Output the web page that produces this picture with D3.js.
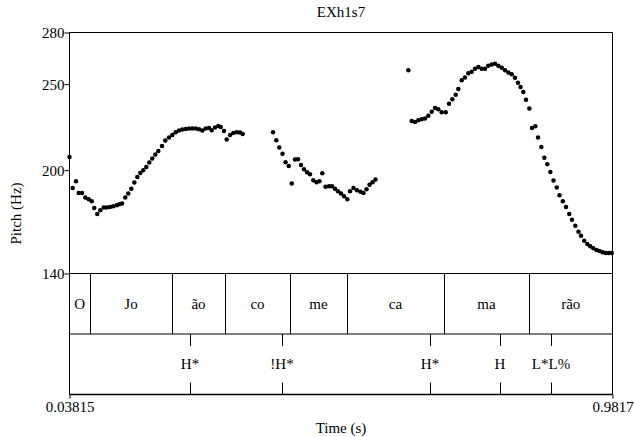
<!DOCTYPE html>
<html>
<head>
<meta charset="utf-8">
<script src="https://cdn.jsdelivr.net/npm/d3@7"></script>
<style>
  body { margin: 0; background: #fff; }
  svg { display: block; }
</style>
</head>
<body>
<svg width="634" height="437"></svg>
<script>
// pitch track (time in s, F0 in Hz)
var pitchTime = [
  0.0382, 0.0437, 0.0494, 0.0541, 0.0599, 0.0656, 0.0715, 0.0767, 0.0812, 0.0864,
  0.0917, 0.0976, 0.1028, 0.1085, 0.1142, 0.1202, 0.1247, 0.1294, 0.1351, 0.1403,
  0.1455, 0.1508, 0.1560, 0.1612, 0.1664, 0.1716, 0.1768, 0.1820, 0.1872, 0.1925,
  0.1989, 0.2046, 0.2110, 0.2168, 0.2227, 0.2284, 0.2342, 0.2401, 0.2458, 0.2515,
  0.2575, 0.2632, 0.2689, 0.2748, 0.2806, 0.2852, 0.2910, 0.2967, 0.3009, 0.3066,
  0.3113, 0.3171, 0.3228, 0.3287, 0.3344, 0.3391,
  0.3918, 0.3975, 0.4027, 0.4083, 0.4135, 0.4191, 0.4243, 0.4300, 0.4352, 0.4404,
  0.4456, 0.4509, 0.4561, 0.4618, 0.4674, 0.4726, 0.4774, 0.4830, 0.4891, 0.4943,
  0.4995, 0.5047, 0.5099, 0.5152, 0.5209, 0.5256, 0.5316, 0.5377, 0.5438, 0.5490,
  0.5543, 0.5595, 0.5647, 0.5699,
  0.6269, 0.6328, 0.6385, 0.6443, 0.6502, 0.6559, 0.6617, 0.6676, 0.6733, 0.6790,
  0.6849, 0.6919, 0.6976, 0.7034, 0.7092, 0.7138, 0.7197, 0.7254, 0.7312, 0.7370,
  0.7428, 0.7485, 0.7544, 0.7602, 0.7659, 0.7718, 0.7775, 0.7833, 0.7892, 0.7949,
  0.8007, 0.8066, 0.8123, 0.8175, 0.8219, 0.8267, 0.8314, 0.8372, 0.8418, 0.8476,
  0.8523, 0.8580, 0.8632, 0.8684, 0.8737, 0.8792, 0.8848, 0.8896, 0.8954, 0.9009,
  0.9065, 0.9113, 0.9171, 0.9226, 0.9270, 0.9325, 0.9379, 0.9430, 0.9484, 0.9539,
  0.9591, 0.9643, 0.9696, 0.9753, 0.9805
];
var pitchHz = [
  207.7, 189.7, 193.6, 186.8, 186.8, 184.2, 183.2, 181.9, 178.1, 174.5,
  176.8, 178.4, 178.4, 178.7, 179.1, 179.7, 180.3, 180.7, 184.2, 186.5,
  189.2, 192.9, 196.1, 198.4, 200.0, 201.9, 204.5, 206.8, 209.1, 211.2,
  214.1, 217.2, 219.0, 220.5, 222.0, 223.0, 223.6, 223.9, 224.2, 224.3,
  224.2, 223.8, 223.0, 224.2, 224.5, 223.2, 224.8, 225.7, 225.1, 222.8,
  217.8, 220.5, 221.6, 222.0, 221.9, 221.0,
  222.0, 217.4, 213.2, 209.5, 204.6, 202.5, 192.3, 206.2, 206.4, 203.1,
  200.6, 198.8, 197.6, 194.2, 193.0, 193.6, 198.3, 190.4, 190.7, 190.7,
  189.3, 187.8, 186.5, 184.9, 183.1, 187.8, 189.6, 188.4, 187.5, 186.8,
  189.0, 191.6, 193.0, 194.6,
  258.0, 228.6, 228.0, 229.0, 229.6, 230.1, 231.6, 233.9, 236.2, 235.4,
  233.6, 233.6, 238.6, 241.2, 243.9, 247.2, 252.2, 253.9, 256.4, 257.2,
  259.0, 259.9, 259.0, 259.0, 260.7, 261.4, 261.9, 260.7, 259.5, 258.0,
  256.8, 255.7, 253.7, 250.8, 248.3, 245.4, 241.0, 235.9, 224.5, 225.5,
  219.0, 213.5, 207.2, 203.4, 199.0, 194.0, 189.9, 185.5, 181.9, 178.6,
  174.6, 171.2, 167.7, 164.3, 161.9, 159.0, 157.2, 155.8, 154.6, 153.6,
  153.0, 152.3, 151.9, 151.9, 151.9
];

// syllable tier
var syllableBounds = [0.0738, 0.2163, 0.3084, 0.4213, 0.5204, 0.6889, 0.8366];
var syllableLabels = ["O", "Jo", "ão", "co", "me", "ca", "ma", "rão"];

// tone tier
var toneTimes = [0.2476, 0.4074, 0.6646, 0.7862, 0.8749];
var toneLabels = ["H*", "!H*", "H*", "H", "L*L%"];

var yTicks = [140, 200, 250, 280];
var xTicks = [0.03815, 0.9817];
var xTickLabels = ["0.03815", "0.9817"];
var title = "EXh1s7";

var font = "Liberation Serif";

var svg = d3.select("svg")
    .attr("font-family", font)
    .attr("font-size", 15);

var plotLeft = 69.5, plotRight = 612.5,
    plotTop = 32.5, pitchBottom = 273.5,
    tierH = 60.5,
    tier1Bottom = pitchBottom + tierH,
    tier2Bottom = tier1Bottom + tierH;

var x = d3.scaleLinear()
    .domain([xTicks[0], xTicks[1]])
    .range([plotLeft, plotRight]);

var y = d3.scaleLinear()
    .domain([140, 280])
    .range([pitchBottom, plotTop]);

// title
svg.append("text")
    .attr("x", (plotLeft + plotRight) / 2)
    .attr("y", 17)
    .attr("text-anchor", "middle")
    .text(title);

// frame lines
var frame = svg.append("g")
    .attr("stroke", "#000")
    .attr("stroke-width", 1)
    .attr("fill", "none");

frame.append("line").attr("x1", plotLeft).attr("x2", plotRight).attr("y1", plotTop).attr("y2", plotTop);
frame.append("line").attr("x1", plotLeft).attr("x2", plotRight).attr("y1", pitchBottom).attr("y2", pitchBottom);
frame.append("line").attr("x1", plotLeft).attr("x2", plotRight).attr("y1", tier1Bottom).attr("y2", tier1Bottom);
frame.append("line").attr("x1", plotLeft).attr("x2", plotRight).attr("y1", tier2Bottom).attr("y2", tier2Bottom)
    .attr("stroke-width", 1.5);
frame.append("line").attr("x1", plotLeft).attr("x2", plotLeft).attr("y1", plotTop).attr("y2", tier2Bottom);
frame.append("line").attr("x1", plotRight).attr("x2", plotRight).attr("y1", plotTop).attr("y2", tier2Bottom);

// y axis
var yAxis = svg.append("g")
    .attr("transform", "translate(" + plotLeft + ",0)")
    .call(d3.axisLeft(y).tickValues(yTicks).tickSize(5).tickPadding(0).tickFormat(d3.format("d")));
yAxis.select(".domain").remove();
yAxis.attr("font-family", font).attr("font-size", 15);
yAxis.selectAll("text")
    .attr("dy", "0.33em")
    .attr("fill", "#000");
yAxis.selectAll("line").attr("stroke", "#000");

svg.append("text")
    .attr("transform", "translate(21," + ((plotTop + tier2Bottom) / 2) + ") rotate(-90)")
    .attr("text-anchor", "middle")
    .text("Pitch (Hz)");

// x axis
var xAxis = svg.append("g")
    .attr("transform", "translate(0," + tier2Bottom + ")")
    .call(d3.axisBottom(x).tickValues(xTicks).tickSize(4).tickPadding(3)
      .tickFormat(function(d, i) { return xTickLabels[i]; }));
xAxis.select(".domain").remove();
xAxis.attr("font-family", font).attr("font-size", 15);
xAxis.selectAll("text").attr("fill", "#000");
xAxis.selectAll("line").attr("stroke", "#000");

svg.append("text")
    .attr("x", (plotLeft + plotRight) / 2)
    .attr("y", 433)
    .attr("text-anchor", "middle")
    .text("Time (s)");

// pitch points
svg.append("g")
    .selectAll("circle")
    .data(pitchTime.map(function(t, i) { return [t, pitchHz[i]]; }))
  .enter().append("circle")
    .attr("cx", function(d) { return x(d[0]); })
    .attr("cy", function(d) { return y(d[1]); })
    .attr("r", 2.25)
    .attr("fill", "#000");

// syllable tier
svg.append("g")
    .selectAll("line")
    .data(syllableBounds)
  .enter().append("line")
    .attr("x1", function(d) { return Math.round(x(d)) + 0.5; })
    .attr("x2", function(d) { return Math.round(x(d)) + 0.5; })
    .attr("y1", pitchBottom)
    .attr("y2", tier1Bottom)
    .attr("stroke", "#000");

var edges = [xTicks[0]].concat(syllableBounds, [xTicks[1]]);
svg.append("g")
    .selectAll("text")
    .data(syllableLabels)
  .enter().append("text")
    .attr("x", function(d, i) { return (x(edges[i]) + x(edges[i + 1])) / 2; })
    .attr("y", (pitchBottom + tier1Bottom) / 2)
    .attr("dy", "0.33em")
    .attr("text-anchor", "middle")
    .text(function(d) { return d; });

// tone tier
var tones = svg.append("g");
tones.selectAll("line.up")
    .data(toneTimes)
  .enter().append("line")
    .attr("class", "up")
    .attr("x1", function(d) { return Math.round(x(d)) + 0.5; })
    .attr("x2", function(d) { return Math.round(x(d)) + 0.5; })
    .attr("y1", tier1Bottom)
    .attr("y2", tier1Bottom + 12)
    .attr("stroke", "#000");
tones.selectAll("line.down")
    .data(toneTimes)
  .enter().append("line")
    .attr("class", "down")
    .attr("x1", function(d) { return Math.round(x(d)) + 0.5; })
    .attr("x2", function(d) { return Math.round(x(d)) + 0.5; })
    .attr("y1", tier2Bottom - 12)
    .attr("y2", tier2Bottom)
    .attr("stroke", "#000");
tones.selectAll("text")
    .data(toneLabels)
  .enter().append("text")
    .attr("x", function(d, i) { return x(toneTimes[i]); })
    .attr("y", (tier1Bottom + tier2Bottom) / 2)
    .attr("dy", "0.33em")
    .attr("text-anchor", "middle")
    .text(function(d) { return d; });
</script>
</body>
</html>
